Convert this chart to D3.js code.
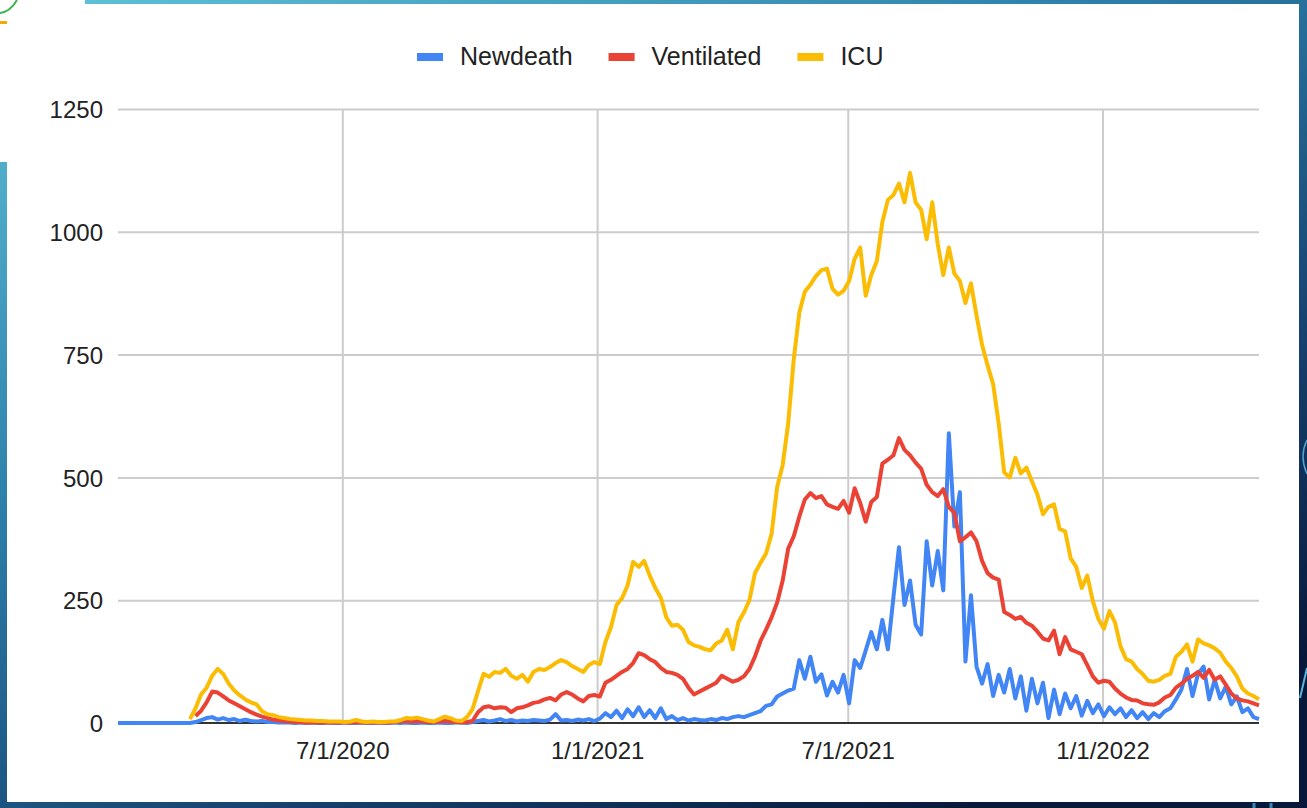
<!DOCTYPE html>
<html>
<head>
<meta charset="utf-8">
<script src="https://cdn.jsdelivr.net/npm/d3@7"></script>
<style>
html, body { margin: 0; padding: 0; overflow: hidden; background: #0b1c42; }
svg { display: block; font-family: "Liberation Sans", Arial, sans-serif; }
</style>
</head>
<body>
<div id="chart"></div>
<script>

// one reading every 4 days, starting 1/21/2020
var startDate = new Date(2020, 0, 21),
    stepDays = 4;

var seriesNames = ["Newdeath", "Ventilated", "ICU"];
var seriesColors = ["#4285f4", "#ea4335", "#fbbc04"];

var newdeath = [
  0,0,0,0,0,0,0,0,0,0,
  0,0,0,0,
  2,6,10,12,7,10,6,8,4,7,
  4,3,4,2,2,1,1,1,0,1,
  0,1,0,0,1,0,0,1,0,0,
  1,0,0,1,0,0,1,0,1,0,
  0,1,0,0,1,0,0,1,1,0,
  2,4,6,3,5,8,4,6,3,5,
  4,6,5,4,7,18,5,6,4,7,
  5,8,4,9,20,12,25,10,28,14,
  32,12,26,10,30,8,14,6,10,5,
  8,6,5,8,6,10,8,12,14,12,
  16,20,24,35,38,54,60,66,70,128,
  90,135,84,99,56,84,62,98,40,128,
  112,148,185,150,210,150,256,358,240,290,
  200,180,370,280,350,270,590,400,470,125,
  260,115,80,120,55,98,62,110,50,95,
  25,90,40,82,10,68,18,60,30,55,
  15,45,20,38,14,32,18,30,12,26,
  10,22,8,20,12,24,30,48,68,110,
  55,100,115,48,88,50,74,38,54,22,
  30,12,8
];

var ventilated = [
  null,null,null,null,null,null,null,null,null,null,
  null,null,null,null,
  14,25,42,64,62,54,46,40,34,28,
  22,17,13,10,7,5,4,3,2,2,
  1,1,1,1,1,1,1,1,1,2,
  1,1,1,1,1,1,2,3,4,3,
  4,3,2,2,3,4,3,2,1,2,
  4,22,32,34,30,32,31,22,30,32,
  36,41,43,48,51,46,58,63,58,50,
  44,55,57,54,82,88,96,104,110,122,
  142,138,130,124,112,104,102,98,90,72,
  58,64,70,76,82,96,90,84,88,95,
  110,135,167,190,215,245,290,355,380,420,
  455,468,458,462,445,440,436,452,428,478,
  448,410,450,460,528,536,545,580,556,545,
  530,518,485,470,462,476,440,428,370,378,
  388,370,330,305,296,292,226,220,212,216,
  204,198,186,172,168,188,140,175,150,145,
  140,118,95,82,86,84,70,60,52,47,
  46,40,38,37,42,52,57,72,80,90,
  96,104,92,108,88,95,78,60,50,46,
  44,40,36
];

var icu = [
  null,null,null,null,null,null,null,null,null,null,
  null,null,null,
  8,30,58,72,96,110,100,80,66,56,
  48,42,38,24,18,16,12,10,8,7,
  6,5,5,4,4,3,3,3,2,3,
  6,3,2,3,2,2,3,3,6,10,
  9,11,8,5,3,8,13,10,5,4,
  12,28,65,100,94,104,102,110,96,90,
  98,84,104,110,108,114,122,128,124,116,
  110,104,118,124,120,165,195,240,254,280,
  328,318,330,300,275,255,215,198,200,190,
  165,158,155,150,148,162,168,190,150,205,
  225,250,305,326,345,385,480,525,610,740,
  835,878,892,910,922,925,884,872,880,900,
  945,968,870,912,940,1020,1065,1075,1098,1060,
  1120,1060,1045,985,1060,975,912,968,915,900,
  855,895,830,770,728,690,610,510,500,540,
  508,520,492,465,425,440,445,395,390,335,
  318,275,300,248,212,192,228,205,156,130,
  125,110,100,86,84,88,96,100,135,145,
  160,125,170,162,158,152,143,125,112,95,
  70,60,55,48
];

var yTicks = [0, 250, 500, 750, 1000, 1250];
var xTickLabels = ["7/1/2020", "1/1/2021", "7/1/2021", "1/1/2022"];

var W = 1307, H = 808;
var margin = {top: 109, right: 48, bottom: 85, left: 118};
var plotW = W - margin.left - margin.right,
    plotH = H - margin.top - margin.bottom;

var dates = newdeath.map(function(d, i) { return d3.timeDay.offset(startDate, i * stepDays); });
var allSeries = [newdeath, ventilated, icu];

var svg = d3.select("#chart").append("svg")
    .attr("width", W)
    .attr("height", H);

// slide background
var defs = svg.append("defs");
var bg = defs.append("linearGradient")
    .attr("id", "bg")
    .attr("x1", "0%").attr("y1", "0%")
    .attr("x2", "75%").attr("y2", "100%");
bg.selectAll("stop")
  .data([
    {offset: "0%", color: "#62c4da"},
    {offset: "40%", color: "#2c80aa"},
    {offset: "75%", color: "#16406e"},
    {offset: "100%", color: "#08183a"}
  ])
  .enter().append("stop")
  .attr("offset", function(d) { return d.offset; })
  .attr("stop-color", function(d) { return d.color; });

svg.append("rect").attr("width", W).attr("height", H).style("fill", "url(#bg)");

// little decorations on the slide edges
svg.append("path").attr("d", "M1300,698 L1307,668").style("stroke", "#58b4dc").style("stroke-width", 2).style("fill", "none");
svg.append("path").attr("d", "M1307,440 Q1299,456 1307,474").style("stroke", "#4fa6d0").style("stroke-width", 1.5).style("fill", "none");
svg.append("path").attr("d", "M1254,803 L1254,808 M1271,803 L1271,808").style("stroke", "#3f86b8").style("stroke-width", 3);

// white panels
svg.append("rect").attr("x", 0).attr("y", 0).attr("width", 85).attr("height", 162).style("fill", "#fff");
svg.append("rect").attr("x", 7).attr("y", 4).attr("width", 1292).attr("height", 798).style("fill", "#fff");
svg.append("path").attr("d", "M0,13 Q10,12 17,0").style("stroke", "#3cb44b").style("stroke-width", 2).style("fill", "none");
svg.append("rect").attr("x", 0).attr("y", 21).attr("width", 7).attr("height", 3).style("fill", "#f2a900");

var x = d3.scaleTime()
    .domain([dates[0], dates[dates.length - 1]])
    .range([margin.left, margin.left + plotW]);

var y = d3.scaleLinear()
    .domain([0, 1250])
    .range([margin.top + plotH, margin.top]);

var xTickDates = xTickLabels.map(function(s) { return d3.timeParse("%m/%d/%Y")(s); });

// gridlines
var gridY = svg.append("g")
    .attr("transform", "translate(" + margin.left + ",0)")
    .call(d3.axisLeft(y).tickValues(yTicks.slice(1)).tickSize(-plotW).tickFormat(""));
gridY.select(".domain").remove();
gridY.selectAll("line").style("stroke", "#cccccc").style("stroke-width", 2);

var gridX = svg.append("g")
    .attr("transform", "translate(0," + (margin.top + plotH) + ")")
    .call(d3.axisBottom(x).tickValues(xTickDates).tickSize(-plotH).tickFormat(""));
gridX.select(".domain").remove();
gridX.selectAll("line").style("stroke", "#cccccc").style("stroke-width", 2);

// baseline
svg.append("line")
    .attr("x1", margin.left).attr("x2", margin.left + plotW)
    .attr("y1", y(0)).attr("y2", y(0))
    .style("stroke", "#333333").style("stroke-width", 2);

// axis labels
var yAxis = svg.append("g")
    .attr("transform", "translate(" + (margin.left - 15) + ",0)")
    .call(d3.axisLeft(y).tickValues(yTicks).tickSize(0).tickPadding(0).tickFormat(d3.format("d")));
yAxis.select(".domain").remove();
yAxis.selectAll("text")
    .style("font-family", "'Liberation Sans', Arial, sans-serif")
    .style("font-size", "24px")
    .style("fill", "#222222")
    .attr("dy", "0.36em");

var xAxis = svg.append("g")
    .attr("transform", "translate(0," + (margin.top + plotH) + ")")
    .call(d3.axisBottom(x).tickValues(xTickDates).tickSize(0).tickPadding(0)
      .tickFormat(function(d, i) { return xTickLabels[i]; }));
xAxis.select(".domain").remove();
xAxis.selectAll("text")
    .style("font-family", "'Liberation Sans', Arial, sans-serif")
    .style("font-size", "24px")
    .style("fill", "#222222")
    .attr("dy", null)
    .attr("y", 36);

// series
var line = d3.line()
    .defined(function(d) { return d != null; })
    .x(function(d, i) { return x(dates[i]); })
    .y(function(d) { return y(d); });

svg.append("g").selectAll("path")
    .data(allSeries)
    .enter().append("path")
    .attr("d", line)
    .style("fill", "none")
    .style("stroke", function(d, i) { return seriesColors[i]; })
    .style("stroke-width", 4)
    .style("stroke-linejoin", "round");

// legend
var legend = svg.append("g");
var lx = 417;
seriesNames.forEach(function(name, i) {
  legend.append("rect")
      .attr("x", lx).attr("y", 53)
      .attr("width", 26).attr("height", 8)
      .style("fill", seriesColors[i]);
  var t = legend.append("text")
      .attr("x", lx + 43).attr("y", 65)
      .style("font-size", "25px")
      .style("fill", "#222222")
      .text(name);
  lx = lx + 43 + t.node().getComputedTextLength() + 36;
});

</script>
</body>
</html>
